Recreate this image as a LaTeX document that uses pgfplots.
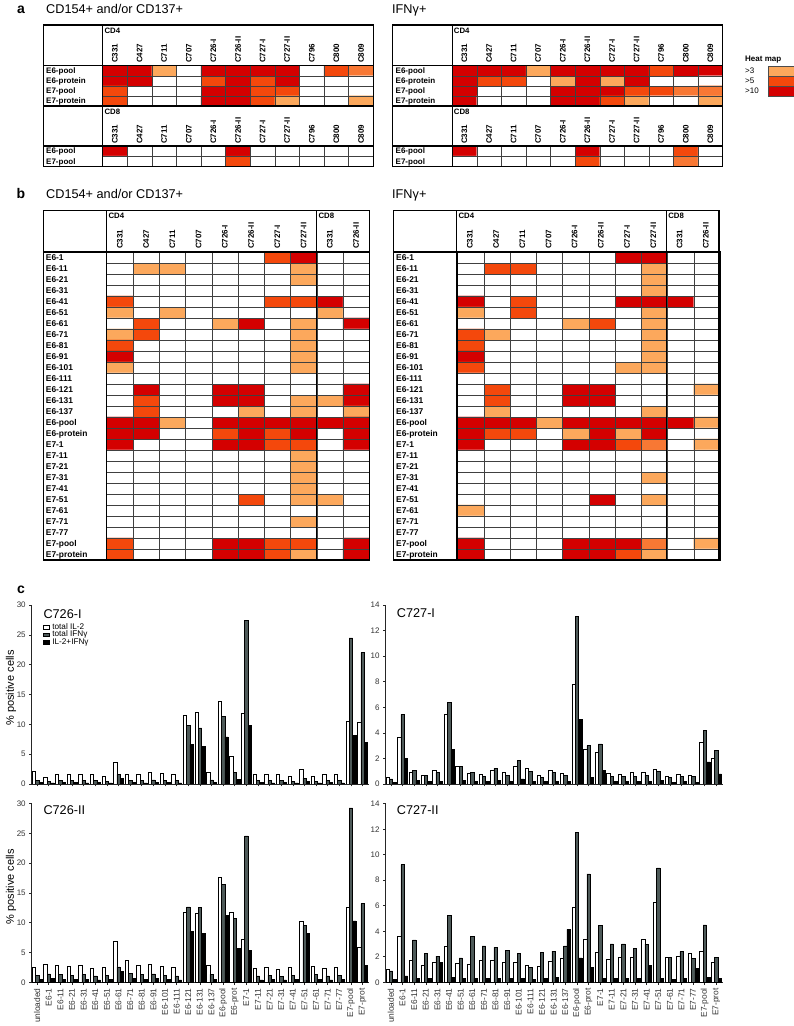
\documentclass[border=0pt]{standalone}
\usepackage{pgfplots}
\pgfplotsset{compat=1.18}
\usepackage{fontspec}
\setmainfont{Liberation Sans}
\definecolor{hc1}{RGB}{252,168,92}
\definecolor{hc2}{RGB}{244,72,12}
\definecolor{hc3}{RGB}{212,0,0}
\definecolor{bargray}{RGB}{78,90,89}
\newcommand\fs[1]{\fontsize{#1}{#1}\selectfont}

% bar chart data: i = category, w = total IL-2, g = total IFNg, b = IL-2+IFNg
\pgfplotstableread{
i w g b
0 2.06 0.6 0.3
1 1.2 0.5 0.2
2 1.7 0.6 0.3
3 1.7 0.6 0.3
4 1.7 0.6 0.2
5 1.7 0.6 0.3
6 1.3 0.5 0.2
7 3.7 1.6 1.0
8 1.7 0.6 0.3
9 1.7 0.6 0.2
10 1.9 0.7 0.3
11 1.8 0.6 0.3
12 1.7 0.6 0.2
13 11.6 9.8 6.6
14 12.1 9.4 6.3
15 1.95 0.7 0.3
16 13.9 11.3 7.9
17 4.6 1.9 0.8
18 11.8 27.4 9.8
19 1.7 0.6 0.3
20 1.7 0.6 0.2
21 1.7 0.6 0.3
22 1.3 0.5 0.2
23 2.5 1.0 0.4
24 1.3 0.5 0.2
25 1.7 0.6 0.3
26 1.7 0.6 0.2
27 10.6 24.5 8.1
28 10.3 22.0 7.0
}\tCa
\pgfplotstableread{
i w g b
0 0.5 0.4 0.1
1 3.65 5.44 2.03
2 0.91 1.07 0.3
3 0.7 0.7 0.2
4 1.04 0.9 0.2
5 5.47 6.38 2.73
6 1.38 1.38 0.3
7 0.82 0.9 0.2
8 0.77 0.6 0.2
9 1.04 1.22 0.3
10 0.91 0.7 0.2
11 1.4 1.87 0.4
12 1.2 1.0 0.2
13 0.7 0.5 0.2
14 1.04 0.9 0.2
15 0.82 0.7 0.2
16 7.8 13.1 5.05
17 2.73 3.0 0.5
18 2.45 3.13 1.04
19 0.82 0.6 0.2
20 0.77 0.6 0.2
21 0.9 0.6 0.2
22 0.9 0.7 0.2
23 1.12 0.98 0.3
24 0.6 0.5 0.1
25 0.77 0.6 0.2
26 0.7 0.6 0.1
27 3.28 4.17 1.74
28 2.0 2.63 0.8
}\tCb
\pgfplotstableread{
i w g b
0 2.46 1.2 0.5
1 3.0 1.4 0.6
2 2.9 1.3 0.5
3 2.75 1.2 0.5
4 2.9 1.3 0.5
5 2.35 1.1 0.4
6 2.6 1.2 0.5
7 6.85 2.6 1.8
8 3.75 1.5 0.6
9 2.9 1.3 0.5
10 3.0 1.4 0.6
11 2.7 1.2 0.5
12 2.5 1.1 0.4
13 11.8 12.65 8.5
14 11.6 12.6 8.2
15 2.87 1.35 0.5
16 17.7 16.4 11.2
17 11.8 10.8 5.67
18 7.2 24.6 5.3
19 2.3 1.1 0.4
20 2.5 1.2 0.5
21 2.2 1.0 0.4
22 2.45 1.2 0.5
23 10.2 9.5 8.25
24 2.7 1.3 0.5
25 2.3 1.1 0.4
26 2.5 1.2 0.5
27 12.65 29.3 10.3
28 5.9 13.2 2.8
}\tCc
\pgfplotstableread{
i w g b
0 1.0 0.9 0.2
1 3.59 9.23 0.5
2 1.75 3.33 0.3
3 1.36 2.28 0.3
4 1.57 2.05 1.57
5 2.86 5.24 0.4
6 1.49 1.91 0.3
7 1.41 3.59 0.3
8 1.7 2.86 0.3
9 1.7 2.73 0.3
10 1.55 2.49 0.3
11 1.6 2.28 0.3
12 1.31 1.18 0.2
13 1.26 2.36 0.3
14 1.65 2.44 0.4
15 1.89 2.86 4.14
16 5.9 11.75 1.91
17 3.41 8.5 1.18
18 2.36 4.48 0.3
19 1.83 3.01 0.3
20 1.96 3.01 0.3
21 2.0 2.68 0.3
22 3.35 3.0 1.34
23 6.3 8.97 0.3
24 1.96 1.96 0.2
25 2.05 2.4 0.3
26 2.28 1.89 1.1
27 2.47 4.5 0.4
28 1.6 1.96 0.3
}\tCd

\pgfplotsset{
  hm/.style={scale only axis, anchor=south west,
    xmin=-0.5, ymin=-0.5, y dir=reverse,
    xticklabels={}, yticklabels={},
    grid=major, major tick length=0pt,
    major grid style={black!75, line width=0.45pt},
    axis line style={line width=1.1pt},
    axis on top,
    colormap={heat}{color=(white) color=(hc1) color=(hc2) color=(hc3)},
    point meta min=0, point meta max=3},
  bc/.style={scale only axis, anchor=south west, width=337pt,
    ybar=0pt, bar width=0.29,
    xmin=-0.47, xmax=28.53, ymin=0,
    axis x line*=bottom, axis y line*=left,
    axis line style={line width=0.8pt, black!85},
    tick align=outside, major tick length=2.5pt,
    tick style={line width=0.6pt, black!85},
    xtick={0,...,28},
    ticklabel style={font=\fs{8}, text=black!80},
    xticklabel style={rotate=90, anchor=east, font=\fs{8.4}},
    /pgf/number format/assume math mode=true,
    legend image code/.code={\draw[##1] (0pt,-1.8pt) rectangle (5.5pt,1.8pt);}},
  wbar/.style={fill=white, draw=black, line width=0.5pt},
  gbar/.style={fill=bargray, draw=black, line width=0.5pt},
  kbar/.style={fill=black, draw=black, line width=0.5pt},
}
\def\cats{unloaded,E6-1,E6-11,E6-21,E6-31,E6-41,E6-51,E6-61,E6-71,E6-81,E6-91,E6-101,E6-111,E6-121,E6-131,E6-137,E6-pool,E6-prot,E7-1,E7-11,E7-21,E7-31,E7-41,E7-51,E7-61,E7-71,E7-77,E7-pool,E7-prot}

\begin{document}
\begin{tikzpicture}
\path[use as bounding box] (0pt,0pt) rectangle (793pt,1026pt);

% ---------- panel a, left ----------
\begin{axis}[hm, at={(102.7pt,920pt)}, width=270.6pt, height=40.3pt,
  xmax=10.5, ymax=3.5, xtick={0.5,1.5,...,9.5}, ytick={0.5,1.5,2.5}]
\addplot[matrix plot*, mesh/cols=11, point meta=explicit]
 table[row sep=\\, x expr={\coordindex-11*floor((\coordindex+0.5)/11)}, y expr={floor((\coordindex+0.5)/11)}, meta=c]{
 c\\
 3\\3\\1\\0\\3\\3\\3\\3\\0\\2\\1.5\\
 3\\3\\0\\0\\2\\3\\2\\3\\0\\0\\0\\
 2\\0\\0\\0\\3\\3\\2\\2\\0\\0\\0\\
 2\\0\\0\\0\\3\\3\\2\\1\\0\\0\\1\\
 };
\end{axis}
\begin{axis}[hm, at={(102.7pt,859.7pt)}, width=270.6pt, height=20.3pt,
  xmax=10.5, ymax=1.5, xtick={0.5,1.5,...,9.5}, ytick={0.5}]
\addplot[matrix plot*, mesh/cols=11, point meta=explicit]
 table[row sep=\\, x expr={\coordindex-11*floor((\coordindex+0.5)/11)}, y expr={floor((\coordindex+0.5)/11)}, meta=c]{
 c\\
 3\\0\\0\\0\\0\\3\\0\\0\\0\\0\\0\\
 0\\0\\0\\0\\0\\2\\0\\0\\0\\0\\0\\
 };
\end{axis}

% ---------- panel a, right ----------
\begin{axis}[hm, at={(452.3pt,920pt)}, width=270.4pt, height=40.3pt,
  xmax=10.5, ymax=3.5, xtick={0.5,1.5,...,9.5}, ytick={0.5,1.5,2.5}]
\addplot[matrix plot*, mesh/cols=11, point meta=explicit]
 table[row sep=\\, x expr={\coordindex-11*floor((\coordindex+0.5)/11)}, y expr={floor((\coordindex+0.5)/11)}, meta=c]{
 c\\
 3\\3\\3\\1\\3\\3\\3\\3\\2\\3\\3\\
 3\\2\\2\\0\\1\\3\\1\\3\\0\\0\\0\\
 3\\0\\0\\0\\3\\3\\3\\2\\2\\1.5\\1.5\\
 3\\0\\0\\0\\3\\3\\2\\1\\0\\0\\1\\
 };
\end{axis}
\begin{axis}[hm, at={(452.3pt,859.7pt)}, width=270.4pt, height=20.3pt,
  xmax=10.5, ymax=1.5, xtick={0.5,1.5,...,9.5}, ytick={0.5}]
\addplot[matrix plot*, mesh/cols=11, point meta=explicit]
 table[row sep=\\, x expr={\coordindex-11*floor((\coordindex+0.5)/11)}, y expr={floor((\coordindex+0.5)/11)}, meta=c]{
 c\\
 3\\0\\0\\0\\0\\3\\0\\0\\0\\2\\0\\
 0\\0\\0\\0\\0\\2\\0\\0\\0\\1.5\\0\\
 };
\end{axis}

% ---------- panel b, left ----------
\begin{axis}[hm, at={(106.7pt,466pt)}, width=262.6pt, height=308pt,
  xmax=9.5, ymax=27.5, xtick={0.5,1.5,...,8.5}, ytick={0.5,1.5,...,26.5}]
\addplot[matrix plot*, mesh/cols=10, point meta=explicit]
 table[row sep=\\, x expr={\coordindex-10*floor((\coordindex+0.5)/10)}, y expr={floor((\coordindex+0.5)/10)}, meta=c]{
 c\\
 0\\0\\0\\0\\0\\0\\2\\3\\0\\0\\
 0\\1\\1\\0\\0\\0\\0\\1\\0\\0\\
 0\\0\\0\\0\\0\\0\\0\\1\\0\\0\\
 0\\0\\0\\0\\0\\0\\0\\0\\0\\0\\
 2\\0\\0\\0\\0\\0\\2\\2\\3\\0\\
 1\\0\\1\\0\\0\\0\\0\\0\\1\\0\\
 0\\2\\0\\0\\1\\3\\0\\1\\0\\3\\
 1\\2\\0\\0\\0\\0\\0\\1\\0\\0\\
 2\\0\\0\\0\\0\\0\\0\\1\\0\\0\\
 3\\0\\0\\0\\0\\0\\0\\1\\0\\0\\
 1\\0\\0\\0\\0\\0\\0\\1\\0\\0\\
 0\\0\\0\\0\\0\\0\\0\\0\\0\\0\\
 0\\3\\0\\0\\3\\3\\0\\0\\0\\3\\
 0\\2\\0\\0\\3\\3\\0\\1\\1\\3\\
 0\\2\\0\\0\\0\\1\\0\\1\\0\\1\\
 3\\3\\1\\0\\3\\3\\3\\3\\3\\3\\
 3\\3\\0\\0\\2\\3\\2\\3\\0\\3\\
 3\\0\\0\\0\\3\\3\\2\\2\\0\\3\\
 0\\0\\0\\0\\0\\0\\0\\1\\0\\0\\
 0\\0\\0\\0\\0\\0\\0\\1\\0\\0\\
 0\\0\\0\\0\\0\\0\\0\\1\\0\\0\\
 0\\0\\0\\0\\0\\0\\0\\1\\0\\0\\
 0\\0\\0\\0\\0\\2\\0\\1\\1\\0\\
 0\\0\\0\\0\\0\\0\\0\\0\\0\\0\\
 0\\0\\0\\0\\0\\0\\0\\1\\0\\0\\
 0\\0\\0\\0\\0\\0\\0\\0\\0\\0\\
 2\\0\\0\\0\\3\\3\\2\\2\\0\\3\\
 2\\0\\0\\0\\3\\3\\2\\1\\0\\3\\
 };
\end{axis}

% ---------- panel b, right ----------
\begin{axis}[hm, at={(457.7pt,466pt)}, width=262.3pt, height=308pt,
  xmax=9.5, ymax=27.5, xtick={0.5,1.5,...,8.5}, ytick={0.5,1.5,...,26.5}]
\addplot[matrix plot*, mesh/cols=10, point meta=explicit]
 table[row sep=\\, x expr={\coordindex-10*floor((\coordindex+0.5)/10)}, y expr={floor((\coordindex+0.5)/10)}, meta=c]{
 c\\
 0\\0\\0\\0\\0\\0\\3\\3\\0\\0\\
 0\\2\\2\\0\\0\\0\\0\\1\\0\\0\\
 0\\0\\0\\0\\0\\0\\0\\1\\0\\0\\
 0\\0\\0\\0\\0\\0\\0\\1\\0\\0\\
 3\\0\\2\\0\\0\\0\\3\\3\\3\\0\\
 1\\0\\2\\0\\0\\0\\0\\1\\0\\0\\
 0\\0\\0\\0\\1\\2\\0\\1\\0\\0\\
 2\\1\\0\\0\\0\\0\\0\\1\\0\\0\\
 2\\0\\0\\0\\0\\0\\0\\1\\0\\0\\
 3\\0\\0\\0\\0\\0\\0\\1\\0\\0\\
 2\\0\\0\\0\\0\\0\\1\\1\\0\\0\\
 0\\0\\0\\0\\0\\0\\0\\0\\0\\0\\
 0\\2\\0\\0\\3\\3\\0\\0\\0\\1\\
 0\\2\\0\\0\\3\\3\\0\\0\\0\\0\\
 0\\1\\0\\0\\0\\0\\0\\1\\0\\0\\
 3\\3\\3\\1\\3\\3\\3\\3\\3\\1\\
 3\\2\\2\\0\\1\\3\\1\\3\\0\\0\\
 3\\0\\0\\0\\3\\3\\2\\1.5\\0\\1\\
 0\\0\\0\\0\\0\\0\\0\\0\\0\\0\\
 0\\0\\0\\0\\0\\0\\0\\0\\0\\0\\
 0\\0\\0\\0\\0\\0\\0\\1\\0\\0\\
 0\\0\\0\\0\\0\\0\\0\\0\\0\\0\\
 0\\0\\0\\0\\0\\3\\0\\1\\0\\0\\
 1\\0\\0\\0\\0\\0\\0\\0\\0\\0\\
 0\\0\\0\\0\\0\\0\\0\\0\\0\\0\\
 0\\0\\0\\0\\0\\0\\0\\0\\0\\0\\
 3\\0\\0\\0\\3\\3\\3\\1.5\\0\\1\\
 3\\0\\0\\0\\3\\3\\2\\1\\0\\0\\
 };
\end{axis}

% ---------- panel c ----------
\begin{axis}[bc, at={(31.7pt,242pt)}, height=179pt, ymax=30, ytick={0,5,...,30},
  xticklabels={},
  legend style={at={(0.034,0.9)}, anchor=north west, draw=none, fill=none,
    font=\fs{8.2}, inner sep=0pt, row sep=-1pt, cells={anchor=west},
    nodes={inner sep=0.5pt},
    /tikz/every odd column/.append style={column sep=2.5pt}}]
\addplot[wbar] table[x=i, y=w]{\tCa};
\addplot[gbar] table[x=i, y=g]{\tCa};
\addplot[kbar] table[x=i, y=b]{\tCa};
\addlegendentry{total IL-2}
\addlegendentry{total IFNγ}
\addlegendentry{IL-2+IFNγ}
\end{axis}
\begin{axis}[bc, at={(385.5pt,242pt)}, height=179pt, ymax=14, ytick={0,2,...,14},
  xticklabels={}]
\addplot[wbar] table[x=i, y=w]{\tCb};
\addplot[gbar] table[x=i, y=g]{\tCb};
\addplot[kbar] table[x=i, y=b]{\tCb};
\end{axis}
\begin{axis}[bc, at={(31.7pt,43.7pt)}, height=178.6pt, ymax=30, ytick={0,5,...,30},
  xticklabels/.expanded={\cats}]
\addplot[wbar] table[x=i, y=w]{\tCc};
\addplot[gbar] table[x=i, y=g]{\tCc};
\addplot[kbar] table[x=i, y=b]{\tCc};
\end{axis}
\begin{axis}[bc, at={(385.5pt,43.7pt)}, height=178.6pt, ymax=14, ytick={0,2,...,14},
  xticklabels/.expanded={\cats}]
\addplot[wbar] table[x=i, y=w]{\tCd};
\addplot[gbar] table[x=i, y=g]{\tCd};
\addplot[kbar] table[x=i, y=b]{\tCd};
\end{axis}

\begin{scope}[x=1pt, y=1pt]
% panel letters and titles
\node[anchor=base, font=\bfseries\fs{14}] at (21,1012) {a};
\node[anchor=base, font=\bfseries\fs{14}] at (21,827) {b};
\node[anchor=base, font=\bfseries\fs{14}] at (21,432.7) {c};
\node[anchor=base west, inner sep=0pt, font=\fs{12.7}] at (46,1012) {CD154+ and/or CD137+};
\node[anchor=base west, inner sep=0pt, font=\fs{12.7}] at (392,1012) {IFNγ+};
\node[anchor=base west, inner sep=0pt, font=\fs{12.7}] at (46,827) {CD154+ and/or CD137+};
\node[anchor=base west, inner sep=0pt, font=\fs{12.7}] at (392,827) {IFNγ+};

% panel a frames and labels
\foreach \dx/\lx in {0/46, 349.4/395.5} {
  \begin{scope}[xshift=\dx]
  \draw[line width=1.1pt] (43.3,859.7) rectangle (373.3,1001);
  \draw[line width=1.1pt] (102.7,859.7) -- (102.7,1001);
  \draw[line width=1.1pt] (43.3,960.3) -- (373.3,960.3);
  \draw[line width=1.1pt] (43.3,920) -- (373.3,920);
  \draw[line width=1.1pt] (43.3,880) -- (373.3,880);
  \node[anchor=west, inner sep=0pt, font=\bfseries\fs{7.8}] at (104.3,995) {CD4};
  \node[anchor=west, inner sep=0pt, font=\bfseries\fs{7.8}] at (104.3,914) {CD8};
  \foreach \c [count=\k from 0] in {C331,C427,C711,C707,C726-I,C726-II,C727-I,C727-II,C796,C800,C809} {
    \node[rotate=90, anchor=west, inner sep=0pt, font=\bfseries\fs{8}] at ({115+24.6*\k},962.8) {\c};
    \node[rotate=90, anchor=west, inner sep=0pt, font=\bfseries\fs{8}] at ({115+24.6*\k},882) {\c};
  }
  \end{scope}
  \foreach \r [count=\k from 0] in {E6-pool,E6-protein,E7-pool,E7-protein}
    \node[anchor=west, inner sep=0pt, text height=5.6pt, text depth=0pt, font=\bfseries\fs{8}] at (\lx,{960.3-10.075*(\k+0.5)}) {\r};
  \foreach \r [count=\k from 0] in {E6-pool,E7-pool}
    \node[anchor=west, inner sep=0pt, text height=5.6pt, text depth=0pt, font=\bfseries\fs{8}] at (\lx,{880-10.15*(\k+0.5)}) {\r};
}

% heat map legend
\node[anchor=west, inner sep=0pt, font=\bfseries\fs{8}] at (745,966) {Heat map};
\node[anchor=west, inner sep=0pt, text height=5.4pt, text depth=0pt, font=\fs{8}] at (745,955) {>3};
\node[anchor=west, inner sep=0pt, text height=5.4pt, text depth=0pt, font=\fs{8}] at (745,945) {>5};
\node[anchor=west, inner sep=0pt, text height=5.4pt, text depth=0pt, font=\fs{8}] at (745,935) {>10};
\filldraw[fill=hc1, draw=black!70, line width=0.5pt] (768,950) rectangle (796,960);
\filldraw[fill=hc2, draw=black!70, line width=0.5pt] (768,940) rectangle (796,950);
\filldraw[fill=hc3, draw=black!70, line width=0.5pt] (768,930) rectangle (796,940);

% panel b frames and labels
\foreach \dx/\lx/\w in {0/45.7/26.26, 350/396/26.23} {
  \begin{scope}[xshift=\dx]
  \draw[line width=1.1pt] (43.3,466) rectangle ({106.7+10*\w},815.3);
  \draw[line width=1.1pt] (106.7,466) -- (106.7,815.3);
  \draw[line width=1.1pt] ({106.7+8*\w},466) -- ({106.7+8*\w},815.3);
  \draw[line width=1.1pt] (43.3,774) -- ({106.7+10*\w},774);
  \node[anchor=west, inner sep=0pt, font=\bfseries\fs{7.8}] at (108.3,810) {CD4};
  \node[anchor=west, inner sep=0pt, font=\bfseries\fs{7.8}] at ({108.3+8*\w},810) {CD8};
  \foreach \c [count=\k from 0] in {C331,C427,C711,C707,C726-I,C726-II,C727-I,C727-II,C331,C726-II}
    \node[rotate=90, anchor=west, inner sep=0pt, font=\bfseries\fs{8}] at ({106.7+\w*(\k+0.5)},777) {\c};
  \end{scope}
  \foreach \r [count=\k from 0] in {E6-1,E6-11,E6-21,E6-31,E6-41,E6-51,E6-61,E6-71,E6-81,E6-91,E6-101,E6-111,E6-121,E6-131,E6-137,E6-pool,E6-protein,E7-1,E7-11,E7-21,E7-31,E7-41,E7-51,E7-61,E7-71,E7-77,E7-pool,E7-protein}
    \node[anchor=west, inner sep=0pt, text height=6pt, text depth=0pt, font=\bfseries\fs{8.4}] at (\lx,{774-11*(\k+0.5)}) {\r};
}

% chart titles and y labels
\node[anchor=base west, inner sep=0pt, font=\fs{12.7}] at (43.3,407.7) {C726-I};
\node[anchor=base west, inner sep=0pt, font=\fs{12.7}] at (396.7,408.3) {C727-I};
\node[anchor=base west, inner sep=0pt, font=\fs{12.7}] at (43.3,211.7) {C726-II};
\node[anchor=base west, inner sep=0pt, font=\fs{12.7}] at (396.7,211.7) {C727-II};
\node[rotate=90, inner sep=0pt, font=\fs{11}] at (11,338) {\% positive cells};
\node[rotate=90, inner sep=0pt, font=\fs{11}] at (11,139.3) {\% positive cells};
\end{scope}
\end{tikzpicture}
\end{document}
